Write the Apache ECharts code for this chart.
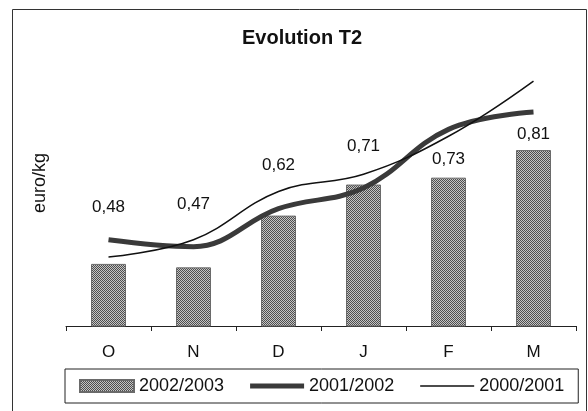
<!DOCTYPE html>
<html>
<head>
<meta charset="utf-8">
<script src="https://cdn.jsdelivr.net/npm/echarts@6/dist/echarts.min.js"></script>
<style>
  html, body { margin: 0; padding: 0; background: #fff; }
  #chart { width: 588px; height: 411px; }
</style>
</head>
<body>
<div id="chart"></div>
<script>
// months of the campaign
const months = ['O', 'N', 'D', 'J', 'F', 'M'];
// euro/kg per season
const season0203 = [0.48, 0.47, 0.62, 0.71, 0.73, 0.81];
const season0102 = [0.55, 0.53, 0.64, 0.70, 0.87, 0.92];
const season0001 = [0.50, 0.55, 0.69, 0.74, 0.85, 1.01];
// how far each value label sits above its bar (moved by hand in the original)
const labelLift = [48, 55, 42, 30, 10, 7];

const FONT = '"Liberation Sans", Arial, sans-serif';

// grey dotted fill like the old excel bars
function makeHatch() {
  const c = document.createElement('canvas');
  c.width = 2;
  c.height = 2;
  const ctx = c.getContext('2d');
  ctx.fillStyle = '#c4c4c4';
  ctx.fillRect(0, 0, 2, 2);
  ctx.fillStyle = '#4e4e4e';
  ctx.fillRect(0, 0, 1, 1);
  ctx.fillRect(1, 1, 1, 1);
  return c;
}
const hatch = { image: makeHatch(), repeat: 'repeat' };

const chart = echarts.init(document.getElementById('chart'), null, { renderer: 'canvas' });

const option = {
  animation: false,
  backgroundColor: '#fff',
  title: {
    text: 'Evolution T2',
    left: 242,
    top: 28,
    padding: 0,
    textStyle: { fontFamily: FONT, fontSize: 20, fontWeight: 'bold', color: '#111' }
  },
  legend: {
    left: 65,
    top: 369,
    padding: [8, 14],
    itemGap: 26,
    itemWidth: 54,
    itemHeight: 12,
    borderColor: '#222',
    borderWidth: 1,
    textStyle: { fontFamily: FONT, fontSize: 18, color: '#111' },
    data: [
      { name: '2002/2003', icon: 'rect' },
      { name: '2001/2002', icon: 'path://M0,0H54V5H0Z' },
      { name: '2000/2001', icon: 'path://M0,0H54V1.5H0Z' }
    ]
  },
  grid: {
    left: 66,
    right: 12,
    top: 50,
    bottom: 85
  },
  xAxis: {
    type: 'category',
    data: months,
    axisLine: { lineStyle: { color: '#222', width: 1 } },
    axisTick: { show: true, length: 5, lineStyle: { color: '#222' } },
    axisLabel: { margin: 18, fontFamily: FONT, fontSize: 17, color: '#111' }
  },
  yAxis: {
    type: 'value',
    min: 0.3,
    max: 1.1,
    axisLine: { show: false },
    axisTick: { show: false },
    axisLabel: { show: false },
    splitLine: { show: false }
  },
  graphic: [
    {
      type: 'rect',
      shape: { x: 12.5, y: 9.5, width: 574, height: 420 },
      style: { fill: 'none', stroke: '#333', lineWidth: 1 },
      silent: true
    },
    {
      type: 'text',
      x: 40,
      y: 183,
      rotation: Math.PI / 2,
      style: {
        text: 'euro/kg',
        fontFamily: FONT,
        fontSize: 18,
        fill: '#111',
        align: 'center',
        verticalAlign: 'middle'
      }
    }
  ],
  series: [
    {
      name: '2002/2003',
      type: 'bar',
      barWidth: 35,
      itemStyle: { color: hatch, borderColor: '#6a6a6a', borderWidth: 1 },
      data: season0203.map((v, i) => ({
        value: v,
        label: { distance: labelLift[i] }
      })),
      label: {
        show: true,
        position: 'top',
        fontFamily: FONT,
        fontSize: 17,
        color: '#111',
        formatter: p => p.value.toFixed(2).replace('.', ',')
      },
      z: 2
    },
    {
      name: '2001/2002',
      type: 'line',
      smooth: 0.4,
      symbol: 'none',
      lineStyle: { color: '#3a3a3a', width: 5 },
      itemStyle: { color: '#3a3a3a' },
      data: season0102,
      z: 3
    },
    {
      name: '2000/2001',
      type: 'line',
      smooth: 0.4,
      symbol: 'none',
      lineStyle: { color: '#111', width: 1.5 },
      itemStyle: { color: '#111' },
      data: season0001,
      z: 4
    }
  ]
};

chart.setOption(option);
</script>
</body>
</html>
